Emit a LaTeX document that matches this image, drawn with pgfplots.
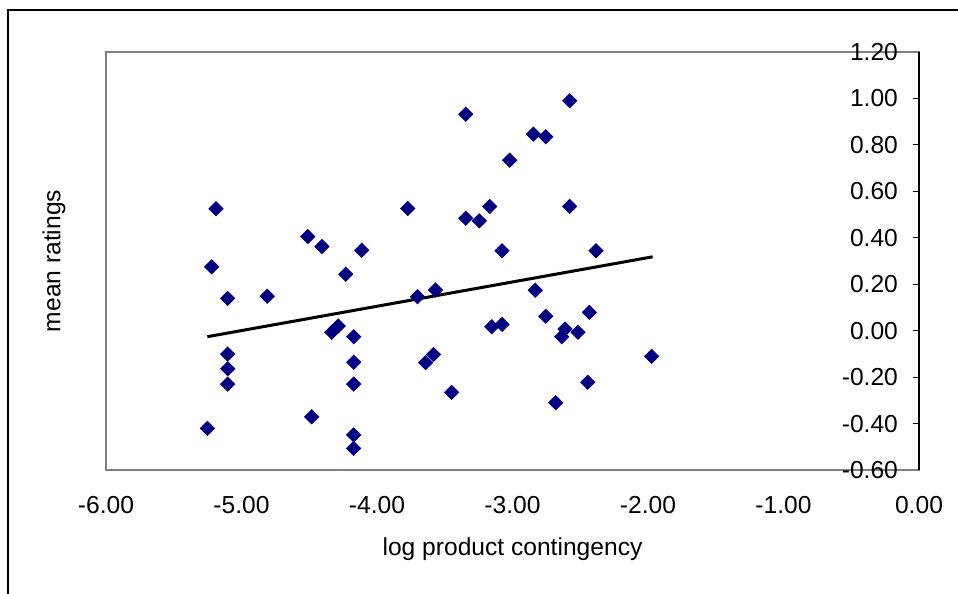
\documentclass[border=0pt]{standalone}
\usepackage{fontspec}
\setmainfont{Liberation Sans}
\usepackage{pgfplots}
\pgfplotsset{compat=1.18}
\definecolor{excelnavy}{HTML}{000080}
\definecolor{framegray}{HTML}{808080}

\pgfplotstableread{
x y
-5.252 -0.421
-5.220 0.275
-5.188 0.525
-5.102 0.139
-5.102 -0.101
-5.102 -0.164
-5.102 -0.230
-4.810 0.148
-4.511 0.405
-4.482 -0.371
-4.406 0.362
-4.334 -0.007
-4.286 0.020
-4.231 0.243
-4.172 -0.026
-4.172 -0.136
-4.172 -0.230
-4.172 -0.449
-4.172 -0.507
-4.113 0.346
-3.773 0.526
-3.701 0.146
-3.568 0.175
-3.641 -0.138
-3.583 -0.103
-3.449 -0.266
-3.345 0.932
-3.345 0.484
-3.245 0.473
-3.168 0.535
-3.153 0.017
-3.077 0.027
-3.077 0.344
-3.021 0.734
-2.846 0.846
-2.755 0.835
-2.832 0.174
-2.755 0.062
-2.681 -0.310
-2.637 -0.026
-2.613 0.007
-2.578 0.990
-2.578 0.535
-2.517 -0.007
-2.445 -0.222
-2.433 0.079
-2.384 0.344
-1.973 -0.111
}\ratings

\begin{document}
\begin{tikzpicture}[x=0.5pt,y=0.5pt]
\path[use as bounding box] (-106,-124) rectangle (852,470);
\draw[black, line width=0.6pt] (-98,-140) -- (-98,460) -- (870,460);
\begin{axis}[
    at={(0,0)}, anchor=south west,
    scale only axis,
    width=406.5pt, height=209pt,
    xmin=-6, xmax=0, ymin=-0.6, ymax=1.2,
    xtick={-6,-5,...,0},
    ytick={-0.6,-0.4,...,1.21},
    font=\fontsize{12.3}{14.5}\selectfont,
    /pgf/number format/assume math mode=true,
    /pgf/number format/.cd, fixed, fixed zerofill, precision=2, /pgfplots/.cd,
    axis line style={framegray, line width=0.6pt},
    xtick style={draw=none},
    ytick pos=right,
    yticklabel pos=right,
    tick align=inside,
    major tick length=3pt,
    ytick style={black, line width=0.6pt},
    yticklabel style={anchor=east, xshift=-7pt},
    xticklabel style={yshift=-9.6pt},
    xlabel={log product contingency},
    ylabel={mean ratings},
    xlabel style={at={(axis description cs:0.5,0)}, anchor=center, yshift=-39.5pt},
    ylabel style={at={(axis description cs:0,0.5)}, anchor=center, yshift=26pt},
    clip=false,
]
\draw[black, line width=0.6pt] (axis cs:0,-0.6) -- (axis cs:0,1.2);
\addplot[only marks, mark=square*, mark size=2.5pt,
    mark options={rotate=45, fill=excelnavy, draw=excelnavy}]
    table[x=x, y=y] {\ratings};
\addplot[black, line width=1.5pt] coordinates {(-5.252,-0.026) (-1.966,0.318)};
\end{axis}
\end{tikzpicture}
\end{document}
